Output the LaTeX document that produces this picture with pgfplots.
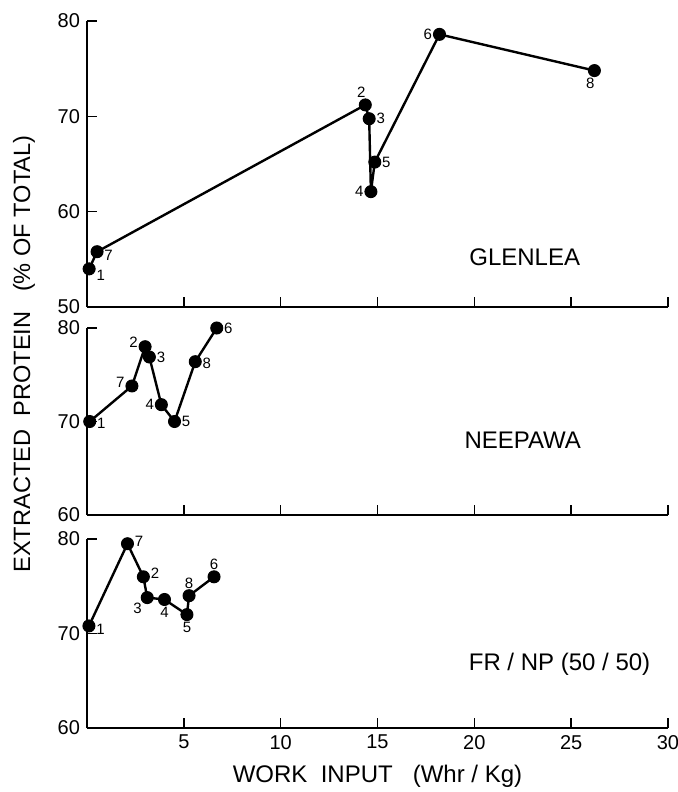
\documentclass[border=0pt]{standalone}
\usepackage{fontspec}
\setmainfont{Liberation Sans}
\usepackage{pgfplots}
\pgfplotsset{compat=1.18}

% 1 px of the reference = 0.5pt
\newcommand\ptfont{\fontsize{7.5}{8}\selectfont}
\newcommand\pname{\fontsize{12}{14}\selectfont}
\newcommand\lab[3]{\node[font=\ptfont,inner sep=0pt,#1] at (axis cs:#2) {#3};}

\pgfplotsset{
  panel/.style={
    scale only axis, width=290.5pt, anchor=south west,
    xmin=0, xmax=30, xtick={5,10,...,30},
    axis lines*=left,
    axis line style={line width=0.8pt,-},
    tick style={line width=0.8pt,black},
    major tick length=5pt, tick align=inside,
    ticklabel style={font=\fontsize{10}{12}\selectfont},
    /pgf/number format/assume math mode=true,
    clip=false,
    every axis plot post/.append style={black, line width=1.2pt, mark=*, mark size=3pt,
      mark options={fill=black, draw=black, line width=0.5pt}},
  }
}

\begin{document}
\begin{tikzpicture}
\path[use as bounding box] (0,0) rectangle (338.5pt,-396pt);

% GLENLEA
\begin{axis}[panel, at={(43.5pt,-153.5pt)}, height=143pt,
  ymin=50, ymax=80, ytick={50,60,70,80}, xticklabels={}]
  \addplot coordinates {
    (0.11,54.0) (0.52,55.8) (14.37,71.2) (14.57,69.75)
    (14.66,62.1) (14.86,65.2) (18.2,78.6) (26.2,74.8)
  };
  \lab{right=3.5pt,yshift=-3pt}{0.11,54.0}{1}
  \lab{right=3.5pt,yshift=-2pt}{0.52,55.8}{7}
  \lab{above=3.5pt,xshift=-2pt}{14.37,71.2}{2}
  \lab{right=3.5pt}{14.57,69.75}{3}
  \lab{left=3.5pt}{14.66,62.1}{4}
  \lab{right=3.5pt}{14.86,65.2}{5}
  \lab{left=3.5pt}{18.2,78.6}{6}
  \lab{below=3.5pt,xshift=-2pt}{26.2,74.8}{8}
  \node[font=\pname] at (axis cs:22.6,55.2) {GLENLEA};
\end{axis}

% NEEPAWA
\begin{axis}[panel, at={(43.5pt,-257.5pt)}, height=93.5pt,
  ymin=60, ymax=80, ytick={60,70,80}, xticklabels={}]
  \addplot coordinates {
    (0.14,70.0) (2.32,73.8) (3.0,78.0) (3.22,76.9)
    (3.84,71.8) (4.52,70.0) (5.59,76.4) (6.7,80.0)
  };
  \lab{right=3.5pt,yshift=-1pt}{0.14,70.0}{1}
  \lab{left=3.5pt,yshift=2pt}{2.32,73.8}{7}
  \lab{left=3.5pt,yshift=2pt}{3.0,78.0}{2}
  \lab{right=3.5pt}{3.22,76.9}{3}
  \lab{left=3.5pt}{3.84,71.8}{4}
  \lab{right=3.5pt}{4.52,70.0}{5}
  \lab{right=3.5pt,yshift=-1pt}{5.59,76.4}{8}
  \lab{right=3.5pt}{6.7,80.0}{6}
  \node[font=\pname] at (axis cs:22.5,68) {NEEPAWA};
\end{axis}

% FR/NP (50/50)
\begin{axis}[panel, at={(43.5pt,-364pt)}, height=94.5pt,
  ymin=60, ymax=80, ytick={60,70,80},
  xlabel={WORK \ INPUT \ \ (Whr / Kg)},
  xlabel style={font=\fontsize{12}{14}\selectfont, yshift=-1pt}]
  \addplot coordinates {
    (0.1,70.8) (2.09,79.5) (2.91,76.0) (3.11,73.8)
    (4.0,73.6) (5.16,72.0) (5.27,74.0) (6.56,76.0)
  };
  \lab{right=3.5pt,yshift=-1.5pt}{0.1,70.8}{1}
  \lab{right=3.5pt,yshift=1pt}{2.09,79.5}{7}
  \lab{right=3.5pt,yshift=2pt}{2.91,76.0}{2}
  \lab{below left=2.5pt}{3.11,73.8}{3}
  \lab{below=3.5pt}{4.0,73.6}{4}
  \lab{below=3.5pt}{5.16,72.0}{5}
  \lab{above=3.5pt}{5.27,74.0}{8}
  \lab{above=3.5pt}{6.56,76.0}{6}
  \node[font=\pname] at (axis cs:24.4,66.7) {FR / NP (50 / 50)};
\end{axis}

\node[rotate=90, font=\fontsize{11.8}{13}\selectfont] at (12pt,-177pt)
  {EXTRACTED \ PROTEIN \ \ (\% OF TOTAL)};
\end{tikzpicture}
\end{document}
